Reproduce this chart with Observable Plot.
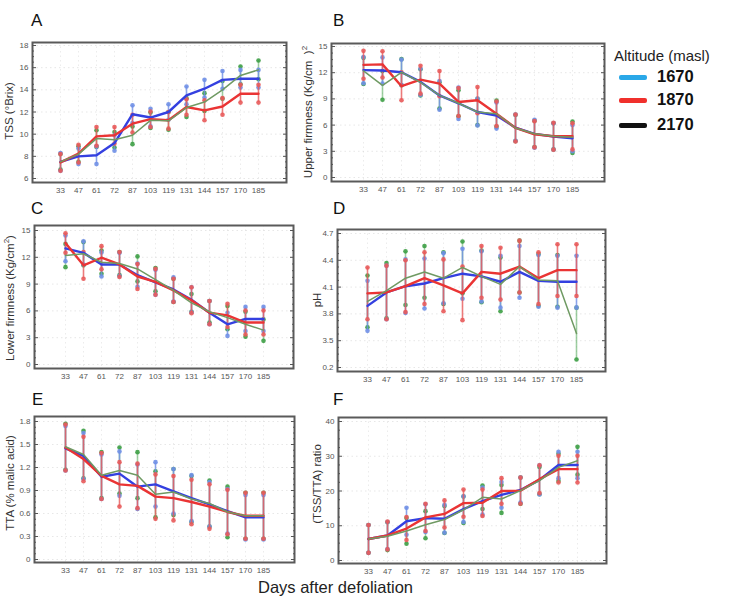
<!DOCTYPE html>
<html>
<head>
<meta charset="utf-8">
<script src="https://cdn.jsdelivr.net/npm/d3@7"></script>
<script src="https://cdn.jsdelivr.net/npm/@observablehq/plot@0.6"></script>
<style>
  body { margin: 0; width: 744px; height: 598px; overflow: hidden; background: #fff; position: relative;
         font-family: "Liberation Sans", Arial, sans-serif; }
  .panel { position: absolute; }
  .letter { position: absolute; font-size: 17px; color: #111; line-height: 1; }
  .ylab { position: absolute; transform: translate(-50%, -50%) rotate(-90deg); white-space: nowrap;
          color: #333; font-size: 11.5px; line-height: 1; }
  .ylab sup { font-size: 8px; vertical-align: 5px; }
  .legend-title { position: absolute; left: 614px; top: 47px; font-size: 15px; color: #222; white-space: nowrap; }
  .legend-row { position: absolute; left: 619px; height: 20px; }
  .legend-row .sw { position: absolute; left: 0; top: 8px; width: 28px; height: 5px; border-radius: 2px; }
  .legend-row .lb { position: absolute; left: 38px; top: 0; font-size: 16.5px; font-weight: bold; color: #111; }
  .xtitle { position: absolute; left: 258px; top: 578px; font-size: 16.5px; color: #222; white-space: nowrap; line-height: 1.1; }
</style>
</head>
<body>
<div id="root"></div>
<script>
// Sampling days after defoliation
const days = [33, 47, 61, 72, 87, 103, 119, 131, 144, 157, 170, 185];

// Altitudes (masl) and their drawing colours
const altitudes = ["1670", "1870", "2170"];
const legendColors = ["#2aa8e8", "#f0302c", "#111111"];
const lineColors = ["#3440e0", "#ea3434", "#6f9a63"];
const barColors = ["#6f8fe6", "#e85a5a", "#3d9f45"];
const lineWidths = [2.4, 2.4, 1.5];

// A: total soluble solids (°Brix)
const tss1670 = [7.5, 8.0, 8.1, 9.2, 11.8, 11.5, 12.0, 13.5, 14.1, 14.9, 15.0, 15.0];
const tss1670Err = [0.8, 0.7, 0.8, 0.7, 0.8, 0.8, 0.7, 0.8, 0.8, 0.8, 0.8, 0.8];
const tss1870 = [7.45, 8.25, 9.8, 9.9, 10.95, 11.35, 11.25, 12.45, 12.15, 12.5, 13.65, 13.65];
const tss1870Err = [0.75, 0.8, 0.85, 0.75, 0.8, 0.7, 0.75, 0.7, 0.9, 0.75, 0.8, 0.8];
const tss2170 = [7.5, 8.2, 9.6, 9.5, 9.9, 11.25, 11.2, 12.4, 12.9, 14.0, 15.3, 15.8];
const tss2170Err = [0.7, 0.7, 0.75, 0.7, 0.8, 0.7, 0.8, 0.85, 0.8, 0.8, 0.8, 0.85];

// B: upper firmness (Kg/cm²)
const up1670 = [12.3, 12.25, 12.05, 10.95, 9.4, 8.5, 7.5, 7.1, 5.7, 5.0, 4.7, 4.5];
const up1670Err = [1.5, 1.5, 1.45, 1.5, 1.65, 1.8, 1.55, 1.5, 1.5, 1.6, 1.5, 1.5];
const up1870 = [12.9, 12.95, 10.45, 11.2, 10.75, 8.65, 8.85, 7.3, 5.67, 4.95, 4.72, 4.72];
const up1870Err = [1.6, 1.5, 1.6, 1.6, 1.45, 1.6, 1.5, 1.4, 1.55, 1.5, 1.55, 1.5];
const up2170 = [12.2, 10.55, 12.05, 10.9, 9.4, 8.5, 7.5, 7.3, 5.67, 5.0, 4.72, 4.6];
const up2170Err = [1.5, 1.65, 1.5, 1.5, 1.5, 1.5, 1.5, 1.5, 1.5, 1.5, 1.5, 1.8];

// C: lower firmness (Kg/cm²)
const low1670 = [13.0, 12.5, 11.2, 11.2, 10.0, 9.2, 8.4, 7.25, 5.8, 4.5, 5.1, 5.1];
const low1670Err = [1.45, 1.3, 1.35, 1.3, 1.3, 1.4, 1.35, 1.4, 1.3, 1.3, 1.35, 1.35];
const low1870 = [13.6, 11.1, 11.95, 11.2, 9.85, 9.25, 8.3, 7.2, 5.8, 5.5, 4.7, 4.7];
const low1870Err = [1.1, 1.5, 1.3, 1.4, 1.4, 1.45, 1.3, 1.45, 1.3, 1.3, 1.35, 1.35];
const low2170 = [12.2, 12.4, 11.45, 11.3, 10.7, 9.5, 8.3, 6.9, 5.9, 5.25, 4.5, 3.85];
const low2170Err = [1.3, 1.3, 1.3, 1.3, 1.4, 1.3, 1.3, 1.0, 1.2, 1.3, 1.4, 1.2];

// D: pH
const ph1670 = [3.89, 4.04, 4.11, 4.14, 4.2, 4.25, 4.22, 4.16, 4.27, 4.17, 4.16, 4.16];
const ph1670Err = [0.28, 0.3, 0.3, 0.28, 0.28, 0.28, 0.28, 0.29, 0.29, 0.29, 0.29, 0.29];
const ph1870 = [4.03, 4.04, 4.11, 4.2, 4.12, 4.03, 4.27, 4.25, 4.33, 4.2, 4.29, 4.29];
const ph1870Err = [0.29, 0.3, 0.29, 0.29, 0.29, 0.3, 0.29, 0.29, 0.29, 0.29, 0.29, 0.29];
const ph2170 = [3.94, 4.06, 4.2, 4.27, 4.2, 4.32, 4.22, 4.13, 4.33, 4.18, 4.17, 3.58];
const ph2170Err = [0.29, 0.31, 0.3, 0.29, 0.29, 0.29, 0.29, 0.3, 0.29, 0.29, 0.29, 0.29];

// E: titratable acidity (% malic acid)
const tta1670 = [1.45, 1.35, 1.08, 1.12, 0.95, 0.98, 0.89, 0.80, 0.72, 0.63, 0.55, 0.55];
const tta1670Err = [0.29, 0.3, 0.29, 0.29, 0.29, 0.29, 0.29, 0.3, 0.29, 0.29, 0.29, 0.29];
const tta1870 = [1.46, 1.31, 1.09, 0.98, 0.96, 0.82, 0.80, 0.75, 0.69, 0.62, 0.57, 0.57];
const tta1870Err = [0.3, 0.29, 0.3, 0.29, 0.29, 0.29, 0.29, 0.29, 0.29, 0.29, 0.3, 0.3];
const tta2170 = [1.47, 1.37, 1.1, 1.16, 1.1, 0.85, 0.88, 0.79, 0.73, 0.62, 0.57, 0.57];
const tta2170Err = [0.3, 0.31, 0.3, 0.3, 0.3, 0.3, 0.3, 0.3, 0.3, 0.33, 0.3, 0.3];

// F: TSS/TTA ratio
const ratio1670 = [6.2, 7.2, 11.3, 12.2, 12.0, 14.8, 17.1, 18.9, 20.3, 23.2, 27.5, 27.5];
const ratio1670Err = [4, 3.9, 3.9, 4, 4, 3.7, 3.9, 3.7, 3.6, 4.2, 3.8, 3.8];
const ratio1870 = [6.2, 7.2, 9.2, 12.4, 13.4, 16.5, 16.6, 20.0, 20.1, 23.4, 26.3, 26.3];
const ratio1870Err = [4, 4, 3.3, 3.9, 3.9, 3.9, 3.8, 3.7, 3.75, 4, 3.85, 3.85];
const ratio2170 = [6.2, 7.0, 8.5, 10.3, 11.8, 14.6, 18.2, 17.7, 20.1, 23.0, 26.8, 28.7];
const ratio2170Err = [4, 4, 3.7, 3.9, 3.9, 3.8, 3.4, 4, 3.8, 3.9, 3.9, 4];

// Y tick values and their printed labels
const tssTicks = [6, 8, 10, 12, 14, 16, 18];
const firmTicks = [0, 3, 6, 9, 12, 15];
const phTicks = [3.2, 3.5, 3.8, 4.1, 4.4, 4.7];
const phTickLabels = ["0.2", "3.5", "3.8", "4.1", "4.4", "4.7"];
const ttaTicks = [0, 0.3, 0.6, 0.9, 1.2, 1.5, 1.8];
const ttaTickLabels = ["0", "0.3", "0.6", "0.9", "1.2", "1.5", "1.8"];
const ratioTicks = [0, 10, 20, 30, 40];

const root = document.getElementById("root");

function rows(values, errors) {
  return values.flatMap((v, k) => v.map((y, i) => ({
    day: days[i], v: y, lo: y - errors[k][i], hi: y + errors[k][i], k
  })));
}

function minorTicks(ticks, sub) {
  const out = [];
  for (let i = 0; i < ticks.length - 1; i++) {
    const a = ticks[i], b = ticks[i + 1];
    for (let j = 1; j < sub; j++) out.push(a + (b - a) * j / sub);
  }
  return out;
}

function panel({left, top, width, height, frame, ticks, labels, values, errors, insetTop, insetBottom}) {
  const [fx0, fy0, fx1, fy1] = frame;
  const data = rows(values, errors);
  const fmt = labels ? (d => labels[ticks.indexOf(d)]) : (d => String(d));
  const minor = minorTicks(ticks, 4);
  const marks = [
    Plot.gridY(ticks, {stroke: "#d0d0d0", strokeOpacity: 0.5, strokeDasharray: "1.5,3"}),
    Plot.gridX(days, {stroke: "#d0d0d0", strokeOpacity: 0.4, strokeDasharray: "1.5,3"}),
  ];
  // error bars with dotted ends: 2170 underneath, then 1670, then 1870
  [2, 0, 1].forEach(k => {
    const d = data.filter(r => r.k === k);
    const op = k === 2 ? 0.5 : 0.8;
    marks.push(
      Plot.ruleX(d, {x: "day", y1: "lo", y2: "hi", stroke: barColors[k], strokeWidth: 1.6, strokeOpacity: op}),
      Plot.dot(d, {x: "day", y: "lo", r: 2.3, fill: barColors[k], fillOpacity: 0.9}),
      Plot.dot(d, {x: "day", y: "hi", r: 2.3, fill: barColors[k], fillOpacity: 0.9})
    );
  });
  // mean lines: 1670, 1870 then the thinner 2170 on top
  altitudes.forEach((a, k) => {
    marks.push(Plot.line(data.filter(r => r.k === k), {
      x: "day", y: "v", stroke: lineColors[k], strokeWidth: lineWidths[k], curve: "linear", strokeLinejoin: "round"
    }));
  });
  marks.push(
    Plot.frame({stroke: "#5a5a5a", strokeWidth: 2}),
    Plot.axisX({tickSize: 0, tickPadding: 5, fontSize: 8, fill: "#555", label: null}),
    Plot.axisY(ticks, {anchor: "left", tickSize: 0, tickPadding: 4, tickFormat: fmt, fontSize: 8, fill: "#555", label: null}),
    Plot.axisY(ticks, {anchor: "left", tickSize: -4, tickFormat: () => "", stroke: "#555", label: null}),
    Plot.axisY(minor, {anchor: "left", tickSize: -2, tickFormat: () => "", stroke: "#555", label: null}),
    Plot.axisY(ticks, {anchor: "right", tickSize: -4, tickFormat: () => "", stroke: "#555", label: null}),
    Plot.axisY(minor, {anchor: "right", tickSize: -2, tickFormat: () => "", stroke: "#555", label: null})
  );
  const svg = Plot.plot({
    width, height,
    marginLeft: fx0 - left, marginRight: left + width - fx1,
    marginTop: fy0 - top, marginBottom: top + height - fy1,
    x: {type: "point", domain: days, padding: 1.38},
    y: {domain: [ticks[0], ticks[ticks.length - 1]], insetTop, insetBottom},
    style: {fontFamily: "Liberation Sans, Arial, sans-serif", background: "transparent", overflow: "visible"},
    marks
  });
  svg.classList.add("panel");
  svg.style.left = left + "px";
  svg.style.top = top + "px";
  root.appendChild(svg);
}

panel({left: 0, top: 30, width: 300, height: 168, frame: [32, 42, 286, 182],
  ticks: tssTicks, values: [tss1670, tss1870, tss2170], errors: [tss1670Err, tss1870Err, tss2170Err],
  insetTop: 3, insetBottom: 4});
panel({left: 300, top: 30, width: 320, height: 168, frame: [331, 43, 604, 181],
  ticks: firmTicks, values: [up1670, up1870, up2170], errors: [up1670Err, up1870Err, up2170Err],
  insetTop: 3, insetBottom: 4});
panel({left: 0, top: 212, width: 305, height: 175, frame: [34, 225, 293, 368],
  ticks: firmTicks, values: [low1670, low1870, low2170], errors: [low1670Err, low1870Err, low2170Err],
  insetTop: 5, insetBottom: 4});
panel({left: 300, top: 212, width: 320, height: 175, frame: [337, 229, 605, 371],
  ticks: phTicks, labels: phTickLabels, values: [ph1670, ph1870, ph2170], errors: [ph1670Err, ph1870Err, ph2170Err],
  insetTop: 4, insetBottom: 4});
panel({left: 0, top: 404, width: 305, height: 176, frame: [34, 416, 294, 562],
  ticks: ttaTicks, labels: ttaTickLabels, values: [tta1670, tta1870, tta2170], errors: [tta1670Err, tta1870Err, tta2170Err],
  insetTop: 5, insetBottom: 3});
panel({left: 300, top: 404, width: 320, height: 176, frame: [338, 417, 606, 563],
  ticks: ratioTicks, values: [ratio1670, ratio1870, ratio2170], errors: [ratio1670Err, ratio1870Err, ratio2170Err],
  insetTop: 4, insetBottom: 3});

// Panel letters, axis titles and legend
function addHTML(html) { root.insertAdjacentHTML("beforeend", html); }
[["A", 31, 12], ["B", 333, 12], ["C", 31, 200], ["D", 333, 200], ["E", 32, 391], ["F", 333, 391]]
  .forEach(([t, x, y]) => addHTML(`<div class="letter" style="left:${x}px;top:${y}px">${t}</div>`));

[["TSS (°Brix)", 10, 111],
 ["Upper firmness (Kg/cm&nbsp;&nbsp;)<sup>2</sup>", 308, 112],
 ["Lower firmness (Kg/cm<sup>2</sup>)", 10, 298],
 ["pH", 318, 300],
 ["TTA (% malic acid)", 11, 483],
 ["(TSS/TTA) ratio", 318, 484]]
  .forEach(([t, x, y]) => addHTML(`<div class="ylab" style="left:${x}px;top:${y}px">${t}</div>`));

addHTML(`<div class="legend-title">Altitude (masl)</div>`);
altitudes.forEach((a, k) => {
  const top = [67, 90, 115][k];
  addHTML(`<div class="legend-row" style="top:${top}px"><div class="sw" style="background:${legendColors[k]}"></div><div class="lb">${a}</div></div>`);
});
addHTML(`<div class="xtitle">Days after defoliation</div>`);
</script>
</body>
</html>
